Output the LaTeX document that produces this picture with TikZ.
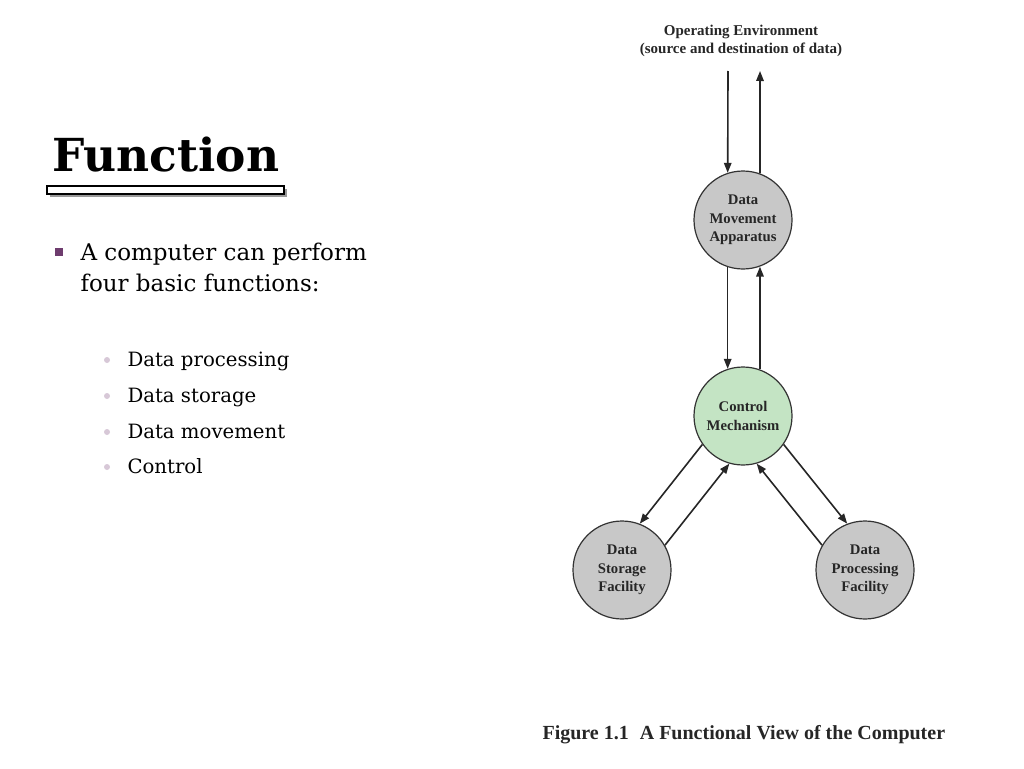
\documentclass[tikz,border=0pt]{standalone}
\usepackage{fontspec}
\setmainfont{DejaVu Serif}
\newfontfamily\figfont{Liberation Serif}
\usetikzlibrary{arrows.meta}
\definecolor{circgray}{RGB}{200,200,200}
\definecolor{circgreen}{RGB}{196,228,196}
\definecolor{bulletpurple}{RGB}{110,60,110}
\definecolor{subbullet}{RGB}{215,200,215}
\begin{document}
\begin{tikzpicture}[x=1pt,y=-1pt,
  proc/.style={circle,draw=black!80,line width=1.2pt,minimum size=98pt,inner sep=0pt,
    fill=circgray,align=center,text=black!85,font=\figfont\bfseries\fontsize{14.7}{18.5}\selectfont},
  flow/.style={line width=1.6pt,draw=black!85,-{Triangle[length=10pt,width=7.5pt]}},
  figtext/.style={font=\figfont\bfseries\fontsize{15}{18}\selectfont,align=center,text=black!85},
  body/.style={anchor=base west,font=\fontsize{23}{31}\selectfont},
  sub/.style={anchor=base west,font=\fontsize{19.7}{23}\selectfont},
  sbul/.style={circle,fill=subbullet,inner sep=0pt,minimum size=6pt}]
\useasboundingbox (0,0) rectangle (1024,768);
% title
\node[anchor=base west,font=\bfseries\fontsize{45.5}{54}\selectfont,inner sep=0pt] (title) at (52,171) {Function};
\fill[black!40] (49.5,189) rectangle (286.5,197);
\draw[line width=1.3pt,fill=white] (47,186) rectangle (284,194);
% bullets
\node[fill=bulletpurple,inner sep=0pt,minimum size=8pt] (b1) at (59,252) {};
\node[body] (t1) at (77,260) {A computer can perform};
\node[body] (t2) at (77,291) {four basic functions:};
\node[sbul] (s1) at (107,360) {};
\node[sub] (u1) at (124,366) {Data processing};
\node[sbul] (s2) at (107,396) {};
\node[sub] (u2) at (124,402) {Data storage};
\node[sbul] (s3) at (107,432) {};
\node[sub] (u3) at (124,438) {Data movement};
\node[sbul] (s4) at (107,467) {};
\node[sub] (u4) at (124,473) {Control};
% diagram
\node[figtext] (env) at (741,41) {Operating Environment\\(source and destination of data)};
\node[proc] (dm) at (743,220) {Data\\Movement\\Apparatus};
\node[proc,fill=circgreen] (cm) at (743,416) {Control\\Mechanism};
\node[proc] (ds) at (622,570) {Data\\Storage\\Facility};
\node[proc] (dp) at (865,570) {Data\\Processing\\Facility};
\coordinate (envin) at (728,71);
\coordinate (envout) at (760,71);
\draw[flow] (envin) -- (dm.108);
\draw[flow] (dm.70) -- (envout);
\draw[flow] (dm.-108) -- (cm.108);
\draw[flow] (cm.70) -- (dm.-70);
\draw[flow] (cm.215) -- (ds.69);
\draw[flow] (ds.30) -- (cm.254);
\draw[flow] (cm.325) -- (dp.111);
\draw[flow] (dp.150) -- (cm.286);
\node[anchor=base west,font=\figfont\bfseries\fontsize{20}{24}\selectfont,text=black!85] (cap) at (539,739) {Figure 1.1\hspace{11pt}A Functional View of the Computer};
\end{tikzpicture}
\end{document}
